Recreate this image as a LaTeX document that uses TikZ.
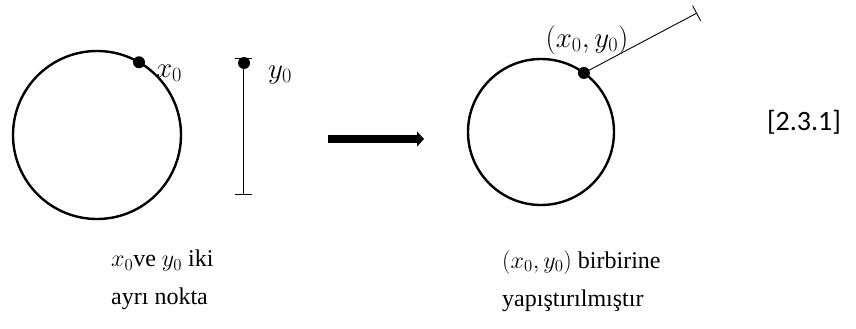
\documentclass[tikz,border=0pt]{standalone}
\usepackage{fix-cm}
\usepackage{fontspec}
\setmainfont{Liberation Serif}
\newfontfamily\calibri{Carlito}
\usetikzlibrary{arrows.meta}
\begin{document}
\begin{tikzpicture}[x=1pt,y=-1pt]
  \tikzset{
    halka/.style={line width=2.4pt},
    nokta/.style={circle,fill=black,inner sep=0pt,minimum size=12pt},
    ince/.style={line width=0.9pt},
    yazi/.style={font=\fontsize{24}{38}\selectfont,inner sep=0pt},
    isim/.style={font=\fontsize{29}{36}\selectfont,inner sep=0pt},
  }
  \useasboundingbox (0,0) rectangle (856,329);
  % sol: çember ve ayrı bir doğru parçası
  \draw[halka] (97,135) circle (84);
  \node[nokta] (x0) at ({97+84*cos(60)},{135-84*sin(60)}) {};
  \node[isim] (x0lbl) at (169,73) {$x_0$};
  \coordinate (ust) at (243,58);
  \coordinate (alt) at (243,195);
  \draw[ince,{Bar[width=17pt]}-{Bar[width=17pt]}] (ust) -- (alt);
  \node[nokta] (y0) at (244,63) {};
  \node[isim] (y0lbl) at (280,75) {$y_0$};
  % kalın ok
  \coordinate (ok1) at (328,139);
  \coordinate (ok2) at (424,139);
  \draw[line width=8pt,-{Triangle[length=7pt,width=15pt]}] (ok1) -- (ok2);
  % sağ: noktalar birbirine yapıştırılmış
  \draw[halka] (541,132) circle (73);
  \node[nokta] (xy0) at ({541+73*cos(54)},{132-73*sin(54)}) {};
  \coordinate (uc) at (697,13);
  \draw[ince,-{Bar[width=17pt]}] (xy0.center) -- (uc);
  \node[isim] (xy0lbl) at (587,40) {$(x_0,y_0)$};
  \node[font=\calibri\fontsize{28}{32}\selectfont,inner sep=0pt] (no) at (804,122) {[2.3.1]};
  % alt yazılar
  \node[yazi,align=left,anchor=north west] (solyazi) at (111,250)
    {$x_0$ve $y_0$ iki\\ayrı nokta};
  \node[yazi,align=left,anchor=north west] (sagyazi) at (502,250)
    {$(x_0,y_0)$ birbirine\\yapıştırılmıştır};
\end{tikzpicture}
\end{document}
